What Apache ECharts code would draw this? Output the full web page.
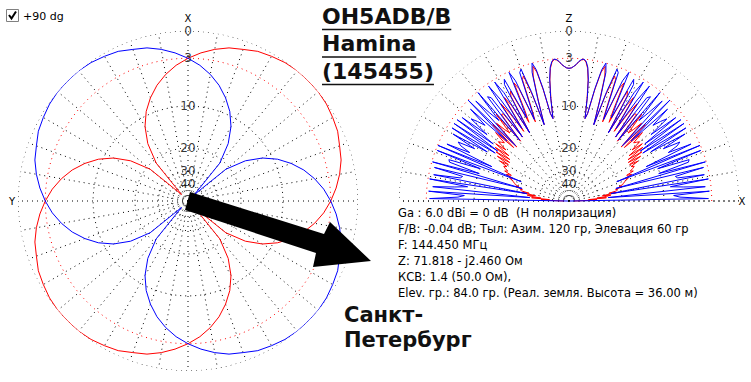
<!DOCTYPE html>
<html><head><meta charset="utf-8">
<script src="https://cdn.jsdelivr.net/npm/echarts@6/dist/echarts.min.js"></script>
<style>html,body{margin:0;padding:0;background:#fff}#c{width:751px;height:382px}</style>
</head><body><div id="c"></div>
<script>
// ---- ring levels (dB) and their labels
const ringLevels = [0, -3, -10, -20, -30, -40];
const ringLabels = ['0', '3', '10', '20', '30', '40'];

// ---- azimuth pattern (angle clockwise from X, dB)
const azAngles = [0,5,10,15,20,25,30,35,40,45,50,55,60,65,70,75,80,85,90,95,100,105,110,115,120,125,130,135,140,145,150,155,160,165,170,175,180,185,190,195,200,205,210,215,220,225,230,235,240,245,250,255,260,265,270,275,280,285,290,295,300,305,310,315,320,325,330,335,340,345,350,355];
const azRed = [-3.0,-2.3,-1.7,-1.2,-0.9,-0.5,-0.3,-0.1,0,0,0,-0.1,-0.3,-0.5,-0.9,-1.2,-1.7,-2.3,-3.0,-3.8,-4.8,-6.0,-7.5,-9.3,-11.7,-15.2,-21.2,-50,-21.2,-15.2,-11.7,-9.3,-7.5,-6.0,-4.8,-3.8,-3.0,-2.3,-1.7,-1.2,-0.9,-0.5,-0.3,-0.1,0,0,0,-0.1,-0.3,-0.5,-0.9,-1.2,-1.7,-2.3,-3.0,-3.8,-4.8,-6.0,-7.5,-9.3,-11.7,-15.2,-21.2,-50,-21.2,-15.2,-11.7,-9.3,-7.5,-6.0,-4.8,-3.8];
const azBlue = [-3.0,-3.8,-4.8,-6.0,-7.5,-9.3,-11.7,-15.2,-21.2,-50,-21.2,-15.2,-11.7,-9.3,-7.5,-6.0,-4.8,-3.8,-3.0,-2.3,-1.7,-1.2,-0.9,-0.5,-0.3,-0.1,0,0,0,-0.1,-0.3,-0.5,-0.9,-1.2,-1.7,-2.3,-3.0,-3.8,-4.8,-6.0,-7.5,-9.3,-11.7,-15.2,-21.2,-50,-21.2,-15.2,-11.7,-9.3,-7.5,-6.0,-4.8,-3.8,-3.0,-2.3,-1.7,-1.2,-0.9,-0.5,-0.3,-0.1,0,0,0,-0.1,-0.3,-0.5,-0.9,-1.2,-1.7,-2.3];

// ---- elevation pattern sampled every 1 degree (0 = right horizon, 180 = left horizon)
const elAngles = [0,1,2,3,4,5,6,7,8,9,10,11,12,13,14,15,16,17,18,19,20,21,22,23,24,25,26,27,28,29,30,31,32,33,34,35,36,37,38,39,40,41,42,43,44,45,46,47,48,49,50,51,52,53,54,55,56,57,58,59,60,61,62,63,64,65,66,67,68,69,70,71,72,73,74,75,76,77,78,79,80,81,82,83,84,85,86,87,88,89,90,91,92,93,94,95,96,97,98,99,100,101,102,103,104,105,106,107,108,109,110,111,112,113,114,115,116,117,118,119,120,121,122,123,124,125,126,127,128,129,130,131,132,133,134,135,136,137,138,139,140,141,142,143,144,145,146,147,148,149,150,151,152,153,154,155,156,157,158,159,160,161,162,163,164,165,166,167,168,169,170,171,172,173,174,175,176,177,178,179,180];
const elBlue = [-90,-3.4,-7.3,-8.3,-3.25,-25.1,-3.7,-6.7,-8.7,-3.2,-23.7,-3.6,-7.3,-7.6,-3.5,-21.5,-3.1,-10.2,-5.2,-5.0,-10.1,-3.2,-20.5,-3.05,-12.0,-4.0,-7.4,-5.8,-5.2,-7.8,-4.1,-9.9,-3.6,-11.3,-3.5,-11.5,-3.55,-10.0,-3.9,-8.2,-4.9,-5.8,-7.0,-4.0,-11.6,-3.0,-13.6,-3.75,-6.2,-8.0,-3.15,-13.3,-4.3,-4.7,-13.1,-3.3,-5.7,-11.6,-3.3,-5.1,-13.2,-4.2,-3.6,-10.3,-7.7,-3.1,-4.4,-11.2,-8.2,-3.65,-3.3,-6.6,-12.9,-7.9,-4.1,-3.0,-3.9,-6.6,-11.0,-12.1,-8.1,-5.5,-3.95,-3.25,-3.0,-3.1,-3.35,-3.75,-4.0,-4.2,-4.25,
  -4.2,-4.0,-3.75,-3.35,-3.1,-3.0,-3.25,-3.95,-5.5,-8.1,-12.1,-11.0,-6.6,-3.9,-3.0,-4.1,-7.9,-12.9,-6.6,-3.3,-3.65,-8.2,-11.2,-4.4,-3.1,-7.7,-10.3,-3.6,-4.2,-13.2,-5.1,-3.3,-11.6,-5.7,-3.3,-13.1,-4.7,-4.3,-13.3,-3.15,-8.0,-6.2,-3.75,-13.6,-3.0,-11.6,-4.0,-7.0,-5.8,-4.9,-8.2,-3.9,-10.0,-3.55,-11.5,-3.5,-11.3,-3.6,-9.9,-4.1,-7.8,-5.2,-5.8,-7.4,-4.0,-12.0,-3.05,-20.5,-3.2,-10.1,-5.0,-5.2,-10.2,-3.1,-21.5,-3.5,-7.6,-7.3,-3.6,-23.7,-3.2,-8.7,-6.7,-3.7,-25.1,-3.25,-8.3,-7.3,-3.4,-90];
const elRed = [-60,-47.9,-34.6,-31.0,-37.1,-25.9,-30.9,-25.7,-23.9,-27.7,-21.5,-24.5,-21.6,-21.0,-21.7,-19.4,-20.3,-19.0,-18.7,-18.2,-17.9,-16.9,-17.6,-15.7,-17.0,-15.0,-15.7,-14.9,-14.3,-15.0,-13.0,-15.05,-12.0,-15.05,-11.3,-14.7,-10.7,-14.0,-10.35,-12.7,-10.5,-11.0,-11.5,-9.05,-13.6,-7.8,-14.0,-8.05,-9.8,-10.9,-6.95,-13.6,-7.5,-7.6,-13.15,-6.15,-8.1,-12.3,-5.7,-7.2,-13.2,-6.0,-5.35,-11.25,-9.0,-4.56,-5.55,-11.7,-9.05,-4.6,-4.2,-7.3,-12.85,-8.35,-4.6,-3.4,-4.25,-6.9,-11.05,-12.1,-8.4,-5.65,-4.1,-3.35,-3.05,-3.15,-3.4,-3.77,-4.0,-4.2,-4.25,
  -4.2,-4.0,-3.77,-3.4,-3.15,-3.05,-3.35,-4.1,-5.65,-8.4,-12.1,-11.05,-6.9,-4.25,-3.4,-4.6,-8.35,-12.85,-7.3,-4.2,-4.6,-9.05,-11.7,-5.55,-4.56,-9.0,-11.25,-5.35,-6.0,-13.2,-7.2,-5.7,-12.3,-8.1,-6.15,-13.15,-7.6,-7.5,-13.6,-6.95,-10.9,-9.8,-8.05,-14.0,-7.8,-13.6,-9.05,-11.5,-11.0,-10.5,-12.7,-10.35,-14.0,-10.7,-14.7,-11.3,-15.05,-12.0,-15.05,-13.0,-15.0,-14.3,-14.9,-15.7,-15.0,-17.0,-15.7,-17.6,-16.9,-17.9,-18.2,-18.7,-19.0,-20.3,-19.4,-21.7,-21.0,-21.6,-24.5,-21.5,-27.7,-23.9,-25.7,-30.9,-25.9,-37.1,-31.0,-34.6,-47.9,-60];

// ---- texts
const titleLines = ['OH5ADB/B', 'Hamina', '(145455)'];
const cityLines = ['Санкт-', 'Петербург'];
const infoLines = [
  'Ga : 6.0 dBi = 0 dB  (H поляризация)',
  'F/B: -0.04 dB; Тыл: Азим. 120 гр, Элевация 60 гр',
  'F: 144.450 МГц',
  'Z: 71.818 - j2.460 Ом',
  'КСВ: 1.4 (50.0 Ом),',
  'Elev. гр.: 84.0 гр. (Реал. земля. Высота = 36.00 м)'
];
const checkLabel = '+90 dg';

// ARRL log scale: radius fraction for a dB value
function arrl(db) { return Math.pow(0.89, -db / 2); }

const FONT = '"DejaVu Sans", Verdana, sans-serif';
const BLUE = '#0000ff', RED = '#ff0000';
const chart = echarts.init(document.getElementById('c'), null, {renderer: 'svg'});

function ringSeries(pi, from, to) {
  return ringLevels.map(lv => {
    const d = [];
    for (let a = from; a <= to; a += 2) d.push([arrl(lv), a]);
    return {
      type: 'line', coordinateSystem: 'polar', polarIndex: pi, data: d,
      symbol: 'none', silent: true, animation: false, z: 1,
      lineStyle: {color: lv === -3 ? RED : '#000', width: 1, type: [1, 4]}
    };
  });
}
function radialSeries(pi, from, to) {
  const d = [];
  for (let a = from; a <= to; a += 10) { d.push([0, a]); d.push([1, a]); d.push(['-', '-']); }
  return {type: 'line', coordinateSystem: 'polar', polarIndex: pi, data: d, symbol: 'none',
    silent: true, animation: false, connectNulls: false, z: 1,
    lineStyle: {color: '#000', width: 1, type: [1, 4]}};
}
function labelSeries(pi, ang) {
  return {type: 'scatter', coordinateSystem: 'polar', polarIndex: pi, silent: true, animation: false, z: 8,
    symbolSize: 2, itemStyle: {color: 'rgba(0,0,0,0)'},
    data: ringLevels.map((lv, i) => ({value: [arrl(lv), ang], name: ringLabels[i]})),
    label: {show: true, position: 'inside', formatter: '{b}', color: '#000', fontSize: 12, fontFamily: FONT}};
}
function patternSeries(pi, angles, dbs, color, close, z) {
  const d = angles.map((a, i) => [arrl(dbs[i]), a]);
  if (close) d.push([arrl(dbs[0]), 360]);
  return {type: 'line', coordinateSystem: 'polar', polarIndex: pi, data: d, symbol: 'none',
    silent: true, animation: false, z: z, lineStyle: {color: color, width: 1}};
}

const series = [].concat(
  ringSeries(0, 0, 360),
  [radialSeries(0, 0, 350)],
  [patternSeries(0, azAngles, azRed, RED, true, 3), patternSeries(0, azAngles, azBlue, BLUE, true, 3)],
  [labelSeries(0, 0)],
  ringSeries(1, 0, 180),
  [radialSeries(1, 0, 180),
   {type: 'line', coordinateSystem: 'polar', polarIndex: 1, data: [[1, 0], [0, 0], [1, 180]], symbol: 'none',
    silent: true, animation: false, z: 1, lineStyle: {color: '#000', width: 1, type: [1, 4]}}],
  [patternSeries(1, elAngles, elRed, RED, false, 3), patternSeries(1, elAngles, elBlue, BLUE, false, 4)],
  [labelSeries(1, 90)]
);

// measure text for underline lengths
const mctx = document.createElement('canvas').getContext('2d');
mctx.font = 'bold 22px ' + FONT;

const graphic = [];
// checkbox
graphic.push({type: 'rect', shape: {x: 6.5, y: 9.5, width: 12, height: 12}, style: {fill: '#fff', stroke: '#808080', lineWidth: 1}});
graphic.push({type: 'polyline', shape: {points: [[9, 15], [11.5, 18.5], [16, 11.5]]}, style: {stroke: '#000', lineWidth: 2, fill: null}});
graphic.push({type: 'text', x: 23, y: 16, style: {text: checkLabel, font: '11px ' + FONT, fill: '#000', verticalAlign: 'middle'}});
// axis letters
[['X', 188, 18], ['Y', 12, 201], ['Z', 569, 18], ['X', 742, 201]].forEach(t => {
  graphic.push({type: 'text', x: t[1], y: t[2], z: 10, style: {text: t[0], font: '10px ' + FONT, fill: '#000', align: 'center', verticalAlign: 'middle'}});
});
// title
titleLines.forEach((s, i) => {
  const yb = 27 + i * 27.5;
  graphic.push({type: 'text', x: 322, y: yb, z: 10, style: {text: s, font: 'bold 22px ' + FONT, fill: '#111', verticalAlign: 'bottom'}});
  const w = mctx.measureText(s).width;
  graphic.push({type: 'line', z: 10, shape: {x1: 322, y1: yb + 2.5, x2: 322 + w, y2: yb + 2.5}, style: {stroke: '#111', lineWidth: 1.5}});
});
// city
cityLines.forEach((s, i) => {
  graphic.push({type: 'text', x: 344, y: 315 + i * 25, z: 10, style: {text: s, font: 'bold 21px ' + FONT, fill: '#111', verticalAlign: 'middle'}});
});
// info
infoLines.forEach((s, i) => {
  graphic.push({type: 'text', x: 398, y: 213 + i * 16, z: 10, style: {text: s, font: '11.5px ' + FONT, fill: '#000', verticalAlign: 'middle'}});
});
// arrow
graphic.push({type: 'polygon', z: 20, shape: {points: [[190, 192], [324, 234], [330, 222], [371, 261], [313, 267], [316, 253], [185, 210]]}, style: {fill: '#000'}});

chart.setOption({
  backgroundColor: '#fff',
  animation: false,
  polar: [{center: [188, 201], radius: 170}, {center: [569, 201], radius: 170}],
  angleAxis: [
    {polarIndex: 0, type: 'value', min: 0, max: 360, startAngle: 90, clockwise: true, show: false},
    {polarIndex: 1, type: 'value', min: 0, max: 360, startAngle: 0, clockwise: false, show: false}
  ],
  radiusAxis: [
    {polarIndex: 0, type: 'value', min: 0, max: 1, show: false},
    {polarIndex: 1, type: 'value', min: 0, max: 1, show: false}
  ],
  series: series,
  graphic: graphic
});
</script>
</body></html>
